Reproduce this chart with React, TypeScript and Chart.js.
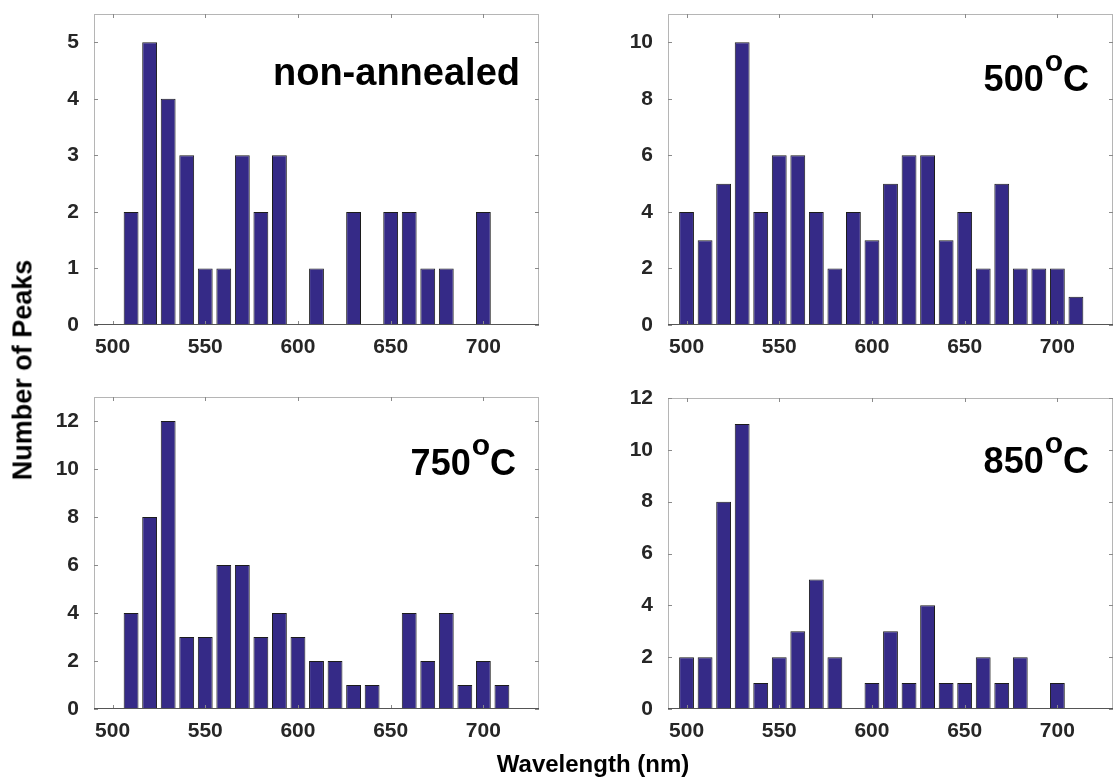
import React, { useEffect, useRef } from "react";
import { Chart, registerables } from "chart.js";

Chart.register(...registerables);

// ---- data ----
const wavelengths = [500, 510, 520, 530, 540, 550, 560, 570, 580, 590, 600, 610, 620, 630, 640, 650, 660, 670, 680, 690, 700, 710];
const countsNonAnnealed = [0, 2, 5, 4, 3, 1, 1, 3, 2, 3, 0, 1, 0, 2, 0, 2, 2, 1, 1, 0, 2, 0];
const counts500 = [4, 3, 5, 10, 4, 6, 6, 4, 2, 4, 3, 5, 6, 6, 3, 4, 2, 5, 2, 2, 2, 1];
const counts750 = [0, 4, 8, 12, 3, 3, 6, 6, 3, 4, 3, 2, 2, 1, 1, 0, 4, 2, 4, 1, 2, 1];
const counts850 = [2, 2, 8, 11, 1, 2, 3, 5, 2, 0, 1, 3, 1, 4, 1, 1, 2, 1, 2, 0, 1, 0];
const xTickValues = [500, 550, 600, 650, 700];
const xMin = 490;
const xMax = 730;
const panelLabels = ["non-annealed", "500", "750", "850"];
const panelYMax = [5.5, 11, 13, 12];
const panelYStep = [1, 2, 2, 2];
const xTitle = "Wavelength (nm)";
const yTitle = "Number of Peaks";

const BAR_COLOR = "#352A87";
const FONT = "'Liberation Sans', Arial, Helvetica, sans-serif";

type Geo = {
  left: number; top: number; w: number; h: number;
  yWidth: number; padTop: number; padRight: number; xHeight: number;
  labRight: number; labBase: number; labSize: number;
};

const geos: Geo[] = [
  { left: 0, top: 0, w: 560, h: 370, yWidth: 94, padTop: 14, padRight: 21, xHeight: 45, labRight: 19, labBase: 71, labSize: 38 },
  { left: 574, top: 0, w: 540, h: 370, yWidth: 94, padTop: 14, padRight: 1, xHeight: 45, labRight: 25, labBase: 77, labSize: 36 },
  { left: 0, top: 380, w: 560, h: 375, yWidth: 94, padTop: 17, padRight: 21, xHeight: 46, labRight: 24, labBase: 78, labSize: 36 },
  { left: 574, top: 380, w: 540, h: 375, yWidth: 94, padTop: 18, padRight: 1, xHeight: 46, labRight: 25, labBase: 75, labSize: 36 },
];

const allCounts = [countsNonAnnealed, counts500, counts750, counts850];

function Panel({ idx }: { idx: number }) {
  const ref = useRef<HTMLCanvasElement>(null);
  const g = geos[idx];
  useEffect(() => {
    if (!ref.current) return;
    const counts = allCounts[idx];
    const label = panelLabels[idx];
    const withDegree = idx > 0;
    const framePlugin = {
      id: "frame" + idx,
      afterDatasetsDraw(chart: any) {
        const { ctx, chartArea } = chart;
        const { left, right, top, bottom } = chartArea;
        const xs = chart.scales.x;
        const ys = chart.scales.y;
        ctx.save();
        ctx.lineWidth = 1;
        ctx.strokeStyle = "#b5b5b5";
        ctx.strokeRect(Math.round(left) + 0.5, Math.round(top) + 0.5, Math.round(right - left) - 1, Math.round(bottom - top) - 1);
        ctx.strokeStyle = "#8a8a8a";
        ctx.beginPath();
        xs.ticks.forEach((t: any) => {
          const px = Math.round(xs.getPixelForValue(t.value)) + 0.5;
          ctx.moveTo(px, bottom); ctx.lineTo(px, bottom - 4);
          ctx.moveTo(px, top); ctx.lineTo(px, top + 4);
        });
        ys.ticks.forEach((t: any) => {
          const py = Math.round(ys.getPixelForValue(t.value)) + 0.5;
          ctx.moveTo(left, py); ctx.lineTo(left + 4, py);
          ctx.moveTo(right, py); ctx.lineTo(right - 4, py);
        });
        ctx.stroke();
        ctx.strokeStyle = "#555555";
        ctx.beginPath();
        const by = Math.round(ys.getPixelForValue(0)) - 0.5;
        ctx.moveTo(left, by); ctx.lineTo(right, by);
        ctx.stroke();
        ctx.restore();
      },
      afterDraw(chart: any) {
        const { ctx, chartArea } = chart;
        const { right, top } = chartArea;
        ctx.save();
        ctx.fillStyle = "#000";
        ctx.textBaseline = "alphabetic";
        ctx.textAlign = "left";
        const big = `bold ${g.labSize}px ${FONT}`;
        const small = `bold ${Math.round(g.labSize * 0.82)}px ${FONT}`;
        const baseY = top + g.labBase;
        const rx = right - g.labRight;
        if (!withDegree) {
          ctx.font = big;
          const w = ctx.measureText(label).width;
          ctx.fillText(label, rx - w, baseY);
        } else {
          ctx.font = big;
          const w1 = ctx.measureText(label).width;
          const w3 = ctx.measureText("C").width;
          ctx.font = small;
          const w2 = ctx.measureText("o").width;
          const x0 = rx - (w1 + w2 + w3);
          ctx.font = big;
          ctx.fillText(label, x0, baseY);
          ctx.font = small;
          ctx.fillText("o", x0 + w1 + 1, baseY - 20);
          ctx.font = big;
          ctx.fillText("C", x0 + w1 + w2 + 1, baseY);
        }
        ctx.restore();
      },
    };

    const chart = new Chart(ref.current, {
      type: "bar",
      data: {
        datasets: [
          {
            data: wavelengths.map((w, i) => ({ x: w, y: counts[i] })),
            backgroundColor: BAR_COLOR,
            borderColor: "#1c1c1c",
            borderWidth: (c: any) => (c.raw && c.raw.y === 0 ? 0 : 1),
            borderSkipped: false,
            barPercentage: 0.8,
            categoryPercentage: 1.0,
          } as any,
        ],
      },
      options: {
        responsive: false,
        animation: false,
        events: [],
        layout: { padding: { top: g.padTop, right: g.padRight, left: 0, bottom: 0 } },
        plugins: { legend: { display: false }, tooltip: { enabled: false } },
        scales: {
          x: {
            type: "linear",
            min: xMin,
            max: xMax,
            offset: false,
            grid: { display: false, offset: false },
            border: { display: false },
            afterFit: (s: any) => { s.height = g.xHeight; s.paddingLeft = 0; s.paddingRight = 0; },
            afterBuildTicks: (s: any) => { s.ticks = xTickValues.map((v) => ({ value: v })); },
            ticks: {
              stepSize: 50,
              includeBounds: false,
              maxRotation: 0,
              autoSkip: false,
              padding: 2,
              color: "#262626",
              font: { family: FONT, size: 21, weight: "bold" },
            },
          },
          y: {
            min: 0,
            max: panelYMax[idx],
            grid: { display: false },
            border: { display: false },
            afterFit: (s: any) => { s.width = g.yWidth; s.paddingTop = 0; s.paddingBottom = 0; },
            ticks: {
              stepSize: panelYStep[idx],
              includeBounds: false,
              padding: 7,
              color: "#262626",
              font: { family: FONT, size: 21, weight: "bold" },
            },
          },
        },
      } as any,
      plugins: [framePlugin as any],
    });
    return () => chart.destroy();
  }, [idx]);
  return (
    <canvas
      ref={ref}
      width={g.w}
      height={g.h}
      style={{ position: "absolute", left: g.left, top: g.top, width: g.w, height: g.h }}
    />
  );
}

export default function App() {
  return (
    <div style={{ position: "fixed", left: 0, top: 0, width: 1114, height: 780, background: "#fff", overflow: "hidden" }}>
      {[0, 1, 2, 3].map((i) => (
        <Panel key={i} idx={i} />
      ))}
      <div
        style={{
          position: "absolute", left: 593, top: 752, transform: "translateX(-50%)",
          font: `bold 24px ${FONT}`, lineHeight: "24px", whiteSpace: "nowrap", color: "#000",
        }}
      >
        {xTitle}
      </div>
      <div
        style={{
          position: "absolute", left: 23, top: 370, transform: "translate(-50%, -50%) rotate(-90deg)",
          font: `bold 27px ${FONT}`, lineHeight: "27px", whiteSpace: "nowrap", color: "#000",
        }}
      >
        {yTitle}
      </div>
    </div>
  );
}
